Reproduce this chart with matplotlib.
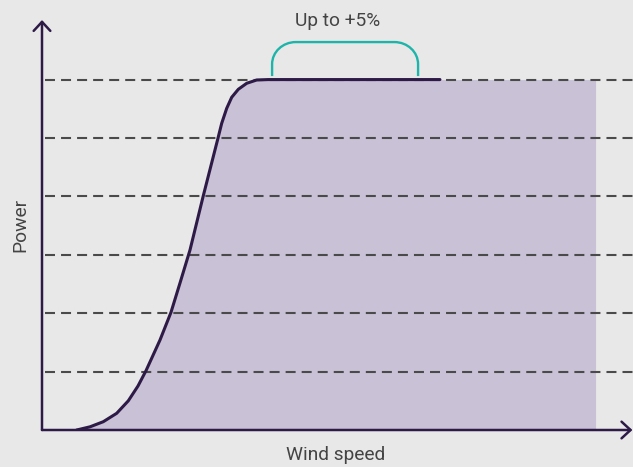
import matplotlib
matplotlib.use("Agg")
import matplotlib.pyplot as plt
from matplotlib.patches import FancyArrowPatch, PathPatch
from matplotlib.path import Path

# ---- data ----
wind_speed = [1.761, 2.437, 3.112, 3.792, 4.381, 4.873, 5.279, 5.990, 6.548, 7.005,
              7.513, 8.188, 8.919, 9.122, 9.376, 9.629, 9.964, 10.391, 10.898, 11.487, 20.2]
power = [0, 0.91, 2.37, 4.77, 8.33, 12.56, 16.92, 25.68, 33.59, 41.95,
         51.37, 66.86, 82.96, 87.52, 91.80, 94.94, 97.22, 98.94, 99.88, 100, 100]
fill_end_speed = 28.1
grid_levels = [100 / 6 * k for k in range(1, 7)]
boost_start, boost_end = 11.68, 19.09
boost_label = "Up to +5%"
x_label = "Wind speed"
y_label = "Power"

# ---- style ----
BG = "#e8e8e8"
FILL = "#c9c1d6"
LINE = "#2e1a47"
DASH = "#4a4a4a"
TEAL = "#1db5a9"
TEXT = "#444444"
plt.rcParams['font.family'] = ['Roboto', 'DejaVu Sans']
FS = 13.8

W, H = 633, 467
fig = plt.figure(figsize=(W / 100, H / 100), dpi=100, facecolor=BG)
ax = fig.add_axes([42 / W, 37 / H, 591 / W, 410 / H])
ax.set_facecolor(BG)
ax.set_xlim(0, 30)
ax.set_ylim(0, 117)
for s in ax.spines.values():
    s.set_visible(False)
ax.set_xticks([])
ax.set_yticks([])

# filled area
ax.fill_between(wind_speed + [fill_end_speed], power + [power[-1]], 0,
                color=FILL, lw=0, zorder=1)

# dashed levels
for lv in grid_levels:
    ax.plot([0.15, 30], [lv, lv], color=DASH, lw=1.5, dashes=(4.8, 2.9), zorder=2,
            solid_capstyle='butt', dash_capstyle='butt')

# power curve
ax.plot(wind_speed, power, color=LINE, lw=2.2, zorder=4, solid_capstyle='round',
        solid_joinstyle='round')

# axes with arrows
arrow_kw = dict(arrowstyle='->,head_length=0.65,head_width=0.6', mutation_scale=10,
                color=LINE, lw=1.8, clip_on=False, zorder=5, shrinkA=0, shrinkB=0)
ax.add_patch(FancyArrowPatch((0, 0), (0, 1), transform=ax.transAxes, **arrow_kw))
ax.add_patch(FancyArrowPatch((0, 0), (0.999, 0), transform=ax.transAxes, **arrow_kw))

# bracket (quarter-ellipse corners)
yb, yt = 101.0, 110.7
rx, ry = 1.2, 6.3
k = 0.5523
x0, x1 = boost_start, boost_end
verts = [(x0, yb), (x0, yt - ry),
         (x0, yt - ry + k * ry), (x0 + rx - k * rx, yt), (x0 + rx, yt),
         (x1 - rx, yt),
         (x1 - rx + k * rx, yt), (x1, yt - ry + k * ry), (x1, yt - ry),
         (x1, yb)]
codes = [Path.MOVETO, Path.LINETO,
         Path.CURVE4, Path.CURVE4, Path.CURVE4,
         Path.LINETO,
         Path.CURVE4, Path.CURVE4, Path.CURVE4,
         Path.LINETO]
ax.add_patch(PathPatch(Path(verts, codes), fill=False, edgecolor=TEAL, lw=1.7,
                       clip_on=False, zorder=5, capstyle='butt'))

fig.text(337.5 / W, 1 - 25.7 / H, boost_label, ha='center', va='baseline',
         fontsize=FS, color=TEXT)
fig.text(336 / W, 1 - 460 / H, x_label, ha='center', va='baseline', fontsize=FS, color=TEXT)
fig.text(25 / W, 1 - 225 / H, y_label, ha='center', va='baseline', rotation=90,
         rotation_mode='anchor', fontsize=FS, color=TEXT)

fig.savefig("out.png", dpi=100, facecolor=BG)
